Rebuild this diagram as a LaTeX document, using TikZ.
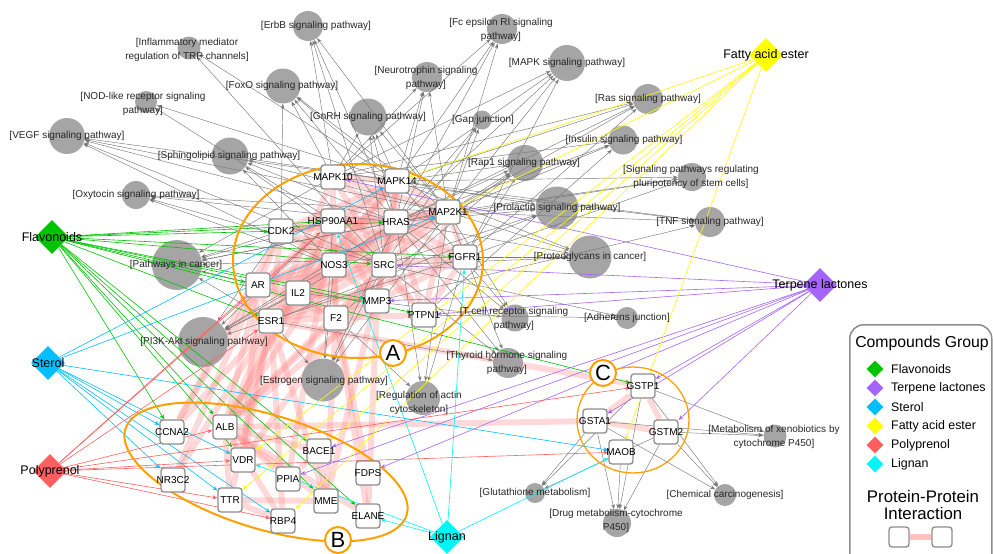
\documentclass[tikz,border=0pt]{standalone}
\usepackage{fontspec}
\setmainfont{Liberation Sans}
\usepackage{tikz}
\usetikzlibrary{arrows.meta,shapes.geometric}
\usepackage{xcolor}
\definecolor{flav}{RGB}{0,195,0}
\definecolor{terp}{RGB}{165,100,250}
\definecolor{ster}{RGB}{0,190,255}
\definecolor{fatty}{RGB}{255,255,0}
\definecolor{poly}{RGB}{255,95,95}
\definecolor{lign}{RGB}{0,245,245}
\definecolor{pwgray}{RGB}{160,160,160}
\definecolor{linkgray}{RGB}{120,120,120}
\definecolor{boxgray}{RGB}{140,140,140}
\definecolor{ppipink}{RGB}{255,140,140}
\definecolor{grporange}{RGB}{255,160,0}
\pgfdeclarelayer{ppilayer}
\pgfdeclarelayer{pwlayer}
\pgfdeclarelayer{linklayer}
\pgfsetlayers{ppilayer,pwlayer,linklayer,main}

\begin{document}
\begin{tikzpicture}[x=1pt, y=-1pt,
  prot/.style={draw=boxgray, line width=1.3pt, fill=white, rounded corners=3pt,
               minimum size=24pt, inner sep=0pt,
               label={[font=\fontsize{10}{12}\selectfont]center:#1}},
  comp/.style 2 args={diamond, fill=#1, minimum size=34pt, inner sep=0pt,
               label={[font=\fontsize{12.5}{15}\selectfont]center:#2}},
  legdia/.style={diamond, fill=#1, minimum size=17pt, inner sep=0pt},
  pw/.style={circle, fill=pwgray, minimum size=#1pt, inner sep=0pt},
  pwl/.style={font=\fontsize{10}{13.5}\selectfont, align=center, inner sep=0pt, text=black!85},
  gr/.style={draw=linkgray, line width=0.45pt, -{Stealth[length=5pt,width=3.5pt]}},
  cl/.style={draw=#1, line width=0.6pt, -{Stealth[length=5pt,width=4pt]}},
  ppi/.style={draw=ppipink, line width=6pt, opacity=0.33},
  grp/.style={draw=grporange, line width=2pt},
  grplabel/.style={circle, draw=grporange, line width=2pt, fill=white, minimum size=26pt,
               inner sep=0pt, font=\fontsize{22}{22}\selectfont}]

\useasboundingbox (0,0) rectangle (993,554);

% Group outlines
\draw[grp] (358,261) ellipse (125 and 97);
\draw[grp, rotate around={-17:(266,472)}] (266,472) ellipse (147 and 57);
\draw[grp, line width=1.3pt] (633,420) ellipse (56 and 53);

% Proteins
\foreach \n/\x/\y in {MAPK10/333/177, MAPK14/397/181, CDK2/281/231, HSP90AA1/333/221,
    HRAS/396/222, MAP2K1/448/212, FGFR1/465/257, NOS3/334/265, SRC/384/265,
    AR/258/285, IL2/298/293, MMP3/377/301, ESR1/271/321, F2/336/318, PTPN1/424/315,
    CCNA2/172/432, ALB/225/427, VDR/243/460, NR3C2/173/480, BACE1/319/451,
    PPIA/288/479, FDPS/368/473, TTR/230/500, MME/326/501, RBP4/283/521, ELANE/368/516,
    GSTP1/643/386, GSTA1/595/421, GSTM2/666/432, MAOB/621/452}
  \node[prot=\n] (\n) at (\x,\y) {};

% Compounds
\node[comp={flav}{Flavonoids}] (Flav) at (52,237) {};
\node[comp={terp}{Terpene lactones}] (Terp) at (820,285) {};
\node[comp={ster}{Sterol}] (Ster) at (48,363) {};
\node[comp={fatty}{Fatty acid ester}] (Fat) at (766,55) {};
\node[comp={poly}{Polyprenol}] (Poly) at (50,471) {};
\node[comp={lign}{Lignan}] (Lig) at (447,537) {};

% Pathways
\begin{pgfonlayer}{pwlayer}
\foreach \n/\x/\y/\d in {ErbB/308/26/30, TRP/189/48/23, FoxO/283/86/35, NOD/146/102/22,
    VEGF/67/136/36, Sphingo/230/156/37, Oxy/136/195/28, PCancer/177/265/50,
    Fc/502/29/30, MAPKsp/567/63/36, Neuro/427/77/30, GnRH/368/117/37, Gap/482/120/19,
    Ras/648/99/30, Insulin/623/140/29, Rap1/525/163/36, Pluri/692/177/28,
    Prolactin/557/208/43, TNF/710/222/30, Proteo/590/257/43, Tcell/515/318/27,
    Adherens/627/318/22, Thyroid/508/363/30, Actin/423/398/34, Estrogen/323/380/43,
    PI3K/203/342/50, Glut/535/493/20, Drug/617/523/28, Chem/725/495/22, Xeno/775/436/23}
  \node[pw=\d, opacity=0.95] (\n) at (\x,\y) {};
\end{pgfonlayer}
\foreach \n/\x/\y/\t in {ErbB/316/26/{[ErbB signaling pathway]},
    TRP/187/50/{[Inflammatory mediator\\regulation of TRP channels]},
    FoxO/282/86/{[FoxO signaling pathway]},
    NOD/143/104/{[NOD-like receptor signaling\\pathway]},
    VEGF/67/136/{[VEGF signaling pathway]},
    Sphingo/229/156/{[Sphingolipid signaling pathway]},
    Oxy/136/195/{[Oxytocin signaling pathway]},
    PCancer/176/265/{[Pathways in cancer]},
    Fc/501/30/{[Fc epsilon RI signaling\\pathway]},
    MAPKsp/567/63/{[MAPK signaling pathway]},
    Neuro/426/78/{[Neurotrophin signaling\\pathway]},
    GnRH/368/117/{[GnRH signaling pathway]},
    Gap/483/120/{[Gap junction]},
    Ras/648/99/{[Ras signaling pathway]},
    Insulin/624/140/{[Insulin signaling pathway]},
    Rap1/524/163/{[Rap1 signaling pathway]},
    Pluri/691/177/{[Signaling pathways regulating\\pluripotency of stem cells]},
    Prolactin/557/208/{[Prolactin signaling pathway]},
    TNF/710/222/{[TNF signaling pathway]},
    Proteo/590/257/{[Proteoglycans in cancer]},
    Tcell/514/319/{[T cell receptor signaling\\pathway]},
    Adherens/627/318/{[Adherens junction]},
    Thyroid/507/363/{[Thyroid hormone signaling\\pathway]},
    Actin/419/403/{[Regulation of actin\\cytoskeleton]},
    Estrogen/324/381/{[Estrogen signaling pathway]},
    PI3K/204/342/{[PI3K-Akt signaling pathway]},
    Glut/535/493/{[Glutathione metabolism]},
    Drug/616/521/{[Drug metabolism-cytochrome\\P450]},
    Chem/725/495/{[Chemical carcinogenesis]},
    Xeno/774/437/{[Metabolism of xenobiotics by\\cytochrome P450]}}
  \node[pwl] (l\n) at (\x,\y) {\t};

% Protein-protein interactions
\begin{pgfonlayer}{ppilayer}
\foreach \a/\b in {HSP90AA1/CDK2, HSP90AA1/MAPK10, HSP90AA1/MAPK14, HSP90AA1/HRAS,
    HSP90AA1/MAP2K1, HSP90AA1/FGFR1, HSP90AA1/NOS3, HSP90AA1/SRC, HSP90AA1/AR,
    HSP90AA1/IL2, HSP90AA1/ESR1, HSP90AA1/F2, HSP90AA1/MMP3, HSP90AA1/PTPN1,
    SRC/CDK2, SRC/MAPK10, SRC/MAPK14, SRC/HRAS, SRC/MAP2K1, SRC/FGFR1, SRC/NOS3,
    SRC/AR, SRC/IL2, SRC/ESR1, SRC/F2, SRC/MMP3, SRC/PTPN1,
    HRAS/MAPK10, HRAS/MAPK14, HRAS/MAP2K1, HRAS/FGFR1, HRAS/NOS3, HRAS/AR, HRAS/IL2,
    HRAS/ESR1, HRAS/CDK2, HRAS/PTPN1,
    ESR1/AR, ESR1/CDK2, ESR1/NOS3, ESR1/MAPK14, ESR1/MAP2K1, ESR1/IL2, ESR1/F2,
    ESR1/MMP3, ESR1/FGFR1, ESR1/MAPK10,
    MAP2K1/MAPK10, MAP2K1/MAPK14, MAP2K1/FGFR1, MAP2K1/PTPN1, MAP2K1/CDK2, MAP2K1/NOS3,
    MAP2K1/AR, AR/CDK2, AR/NOS3, AR/IL2, AR/MAPK14, AR/F2, NOS3/F2, NOS3/IL2, NOS3/MMP3,
    NOS3/MAPK14, NOS3/CDK2, F2/MMP3, F2/IL2, F2/PTPN1, IL2/MAPK14, IL2/MMP3, MMP3/MAPK14,
    MMP3/FGFR1, CDK2/MAPK14, MAPK10/MAPK14, FGFR1/PTPN1,
    ALB/F2, ALB/ESR1, ALB/AR, ALB/NOS3, ALB/HSP90AA1, ALB/SRC, ALB/MMP3, ALB/IL2,
    VDR/ESR1, VDR/AR, VDR/SRC, CCNA2/CDK2, CCNA2/ESR1, CCNA2/AR, NR3C2/AR, NR3C2/ESR1,
    MME/F2, MME/SRC, MME/ESR1, ELANE/F2, ELANE/MMP3, PPIA/HSP90AA1, TTR/ESR1, RBP4/ESR1,
    FDPS/F2, ALB/VDR, ALB/TTR, ALB/RBP4, ALB/PPIA, ALB/MME, ALB/ELANE, ALB/BACE1,
    TTR/RBP4, TTR/MME, MME/BACE1, PPIA/BACE1,
    ALB/GSTA1, GSTA1/GSTM2, GSTP1/GSTA1, GSTP1/GSTM2, ESR1/GSTP1}
  \draw[ppi] (\a) -- (\b);
\end{pgfonlayer}

\begin{pgfonlayer}{linklayer}
% Protein to pathway links
\foreach \p/\ql in {MAPK10/{ErbB,FoxO,GnRH,Neuro,MAPKsp,Fc,TNF,PCancer,Insulin,Ras},
    MAPK14/{FoxO,GnRH,Neuro,MAPKsp,Fc,VEGF,TRP,NOD,Rap1,Prolactin,TNF,Tcell,Proteo,Pluri,Sphingo,Ras},
    HRAS/{ErbB,FoxO,GnRH,Neuro,MAPKsp,Fc,Ras,Rap1,Insulin,VEGF,Sphingo,Oxy,PCancer,PI3K,Gap,Prolactin,Proteo,Tcell,Pluri,Estrogen,Thyroid,Actin},
    MAP2K1/{ErbB,FoxO,GnRH,Neuro,MAPKsp,Fc,Ras,Rap1,Insulin,VEGF,Sphingo,Oxy,PCancer,PI3K,Gap,Prolactin,TNF,Proteo,Tcell,Pluri,Estrogen,Thyroid,Actin},
    CDK2/{FoxO,PI3K,PCancer},
    HSP90AA1/{NOD,PI3K,PCancer,Estrogen},
    FGFR1/{MAPKsp,Ras,Rap1,PI3K,PCancer,Pluri,Proteo,Actin},
    SRC/{Gap,Rap1,Proteo,Estrogen,VEGF,Oxy,ErbB,GnRH,Adherens,Thyroid,TRP,Prolactin,Sphingo},
    NOS3/{VEGF,Oxy,Estrogen,PI3K,Sphingo},
    AR/{PCancer}, IL2/{PI3K,Tcell}, ESR1/{Estrogen,PCancer,Prolactin,Thyroid},
    F2/{Actin,Rap1}, MMP3/{TNF}, PTPN1/{Insulin,Adherens},
    GSTP1/{Glut,Drug,Chem,Xeno}, GSTA1/{Glut,Drug,Chem,Xeno},
    GSTM2/{Glut,Drug,Chem,Xeno}, MAOB/{Drug}}
  \foreach \q in \ql
    \draw[gr] (\p) -- (\q);

% Compound to protein links
\foreach \c/\s/\tl in {flav/Flav/{CDK2,HSP90AA1,HRAS,FGFR1,SRC,AR,ESR1,MMP3,PTPN1,CCNA2,ALB,VDR,BACE1,MME,ELANE,GSTP1},
    ster/Ster/{MAPK14,MAP2K1,CCNA2,NR3C2,VDR,TTR,RBP4,MAOB},
    lign/Lig/{HSP90AA1,FGFR1,VDR,ELANE,MAOB},
    terp/Terp/{MAPK10,SRC,MMP3,PTPN1,BACE1,PPIA,FDPS,GSTP1,GSTA1,GSTM2},
    fatty/Fat/{MAPK14,MAP2K1,VDR,TTR,BACE1,RBP4,MAOB},
    poly/Poly/{HSP90AA1,AR,ESR1,ALB,VDR,TTR,RBP4,MAOB,GSTP1}}
  \foreach \t in \tl
    \draw[cl=\c] (\s) -- (\t);
\end{pgfonlayer}

% Group labels
\node[grplabel] (gA) at (393,353) {A};
\node[grplabel] (gB) at (338,540) {B};
\node[grplabel] (gC) at (603,373) {C};

% Legend
\node[draw=boxgray, line width=1.5pt, rounded corners=14pt, minimum width=142pt,
      minimum height=250pt, anchor=north west] (legend) at (849,324) {};
\node[font=\fontsize{15.8}{18}\selectfont] (lgtitle) at (922,343) {Compounds Group};
\foreach \c/\t [count=\i] in {flav/Flavonoids, terp/Terpene lactones, ster/Sterol,
    fatty/Fatty acid ester, poly/Polyprenol, lign/Lignan} {
  \node[legdia=\c] (lgd\i) at (875,350+19*\i) {};
  \node[anchor=west, inner sep=0pt, font=\fontsize{12.4}{14}\selectfont] (lgt\i) at (891,350+19*\i) {\t};
}
\node[font=\fontsize{16.8}{16.5}\selectfont, align=center] (lgppi) at (923,505) {Protein-Protein\\Interaction};
\node[draw=boxgray, line width=1.3pt, rounded corners=3pt, minimum size=20pt, fill=white] (lgA) at (899,537) {};
\node[draw=boxgray, line width=1.3pt, rounded corners=3pt, minimum size=20pt, fill=white] (lgB) at (942,537) {};
\begin{pgfonlayer}{linklayer}
\draw[draw=ppipink!55, line width=6pt] (lgA) -- (lgB);
\end{pgfonlayer}

\end{tikzpicture}
\end{document}
